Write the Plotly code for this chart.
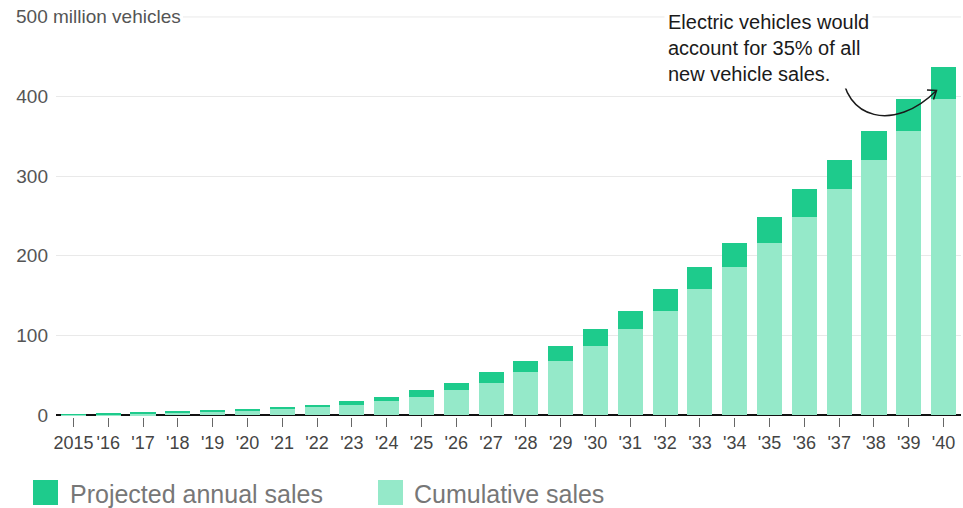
import plotly.graph_objects as go

# ---- data (million vehicles) ----
years = ["2015", "'16", "'17", "'18", "'19", "'20", "'21", "'22", "'23", "'24", "'25", "'26", "'27",
         "'28", "'29", "'30", "'31", "'32", "'33", "'34", "'35", "'36", "'37", "'38", "'39", "'40"]
cumulative_sales = [0.5, 1.0, 1.8, 2.6, 3.8, 5.3, 7.6, 9.8, 13.2, 17.3, 23.2, 31.0, 40.6,
                    53.6, 68.2, 86.7, 107.7, 131.2, 157.9, 185.6, 216.6, 249.2, 283.6, 319.8, 357.0, 396.8]
annual_sales = [0.5, 0.8, 0.8, 1.2, 1.5, 2.3, 2.2, 3.4, 4.1, 5.9, 7.8, 9.6, 13.0,
                14.6, 18.5, 21.0, 23.5, 26.7, 27.7, 31.0, 32.6, 34.4, 36.2, 37.2, 39.8, 40.8]
y_tickvals = [0, 100, 200, 300, 400]
y_ticktext = ["0", "100", "200", "300", "400"]
top_label = "500 million vehicles"
note = "Electric vehicles would<br>account for 35% of all<br>new vehicle sales."
legend_labels = ["Projected annual sales", "Cumulative sales"]

DARK = "#1ECB8C"
LIGHT = "#95E9C9"
FONT = "Liberation Sans, Arial, sans-serif"

W, H = 963, 508
L, R, T, B = 56, 2, 11, 91
PW, PH = W - L - R, H - T - B
plot_bottom = H - B


def px(x):
    return (x - L) / PW


def py(y):
    return (plot_bottom - y) / PH


fig = go.Figure()
fig.add_trace(go.Bar(x=years, y=cumulative_sales, name=legend_labels[1],
                     marker=dict(color=LIGHT, line=dict(width=0)), showlegend=False))
fig.add_trace(go.Bar(x=years, y=annual_sales, name=legend_labels[0],
                     marker=dict(color=DARK, line=dict(width=0)), showlegend=False))

fig.update_layout(
    width=W, height=H, autosize=False,
    margin=dict(l=L, r=R, t=T, b=B, pad=0),
    barmode="stack", bargap=0.28,
    plot_bgcolor="white", paper_bgcolor="white",
    font=dict(family=FONT, color="#555", size=19),
    showlegend=False,
)
fig.update_xaxes(type="category", tickmode="array", tickvals=years, ticktext=years,
                 ticks="outside", ticklen=9, tickwidth=1, tickcolor="#666",
                 showline=False, showgrid=False, tickangle=0,
                 tickfont=dict(family=FONT, size=18, color="#444"),
                 range=[-0.5, len(years) - 0.5])
fig.update_yaxes(range=[-2.5, 507.5], tickvals=y_tickvals, ticktext=y_ticktext,
                 showgrid=True, gridcolor="#E9E9E9", gridwidth=1,
                 zeroline=True, zerolinecolor="#111", zerolinewidth=2,
                 ticks="", showline=False, ticklabelstandoff=7,
                 tickfont=dict(family=FONT, size=19, color="#555"))

# gridline for the 500 level, starting after its label
fig.add_shape(type="line", xref="paper", yref="y", x0=px(183), x1=1, y0=500, y1=500,
              line=dict(color="#E9E9E9", width=1), layer="below")
fig.add_annotation(xref="paper", yref="paper", x=px(14), y=py(17), xanchor="left", yanchor="middle",
                   text=top_label, showarrow=False, font=dict(family=FONT, size=19, color="#555"))

# annotation text
fig.add_annotation(xref="paper", yref="paper", x=px(664), y=py(7), xanchor="left", yanchor="top",
                   text=note, align="left", showarrow=False, bgcolor="white", borderpad=3,
                   font=dict(family=FONT, size=20, color="#1a1a1a"))

# curved arrow
p0, p1, p2, p3 = (842, 68), (843, 120), (895, 132), (936, 91)
path = "M {},{} C {},{} {},{} {},{}".format(px(p0[0]), py(p0[1]), px(p1[0]), py(p1[1]),
                                            px(p2[0]), py(p2[1]), px(p3[0]), py(p3[1]))
fig.add_shape(type="path", xref="paper", yref="paper", path=path,
              line=dict(color="#1a1a1a", width=1.5))
head = "M {},{} L {},{} L {},{}".format(px(927), py(90), px(936.5), py(90.5), px(933.5), py(99.5))
fig.add_shape(type="path", xref="paper", yref="paper", path=head,
              line=dict(color="#1a1a1a", width=1.5))

# legend (custom, large swatches)
for sx, tx, col, lab in [(33, 68, DARK, legend_labels[0]), (378, 412, LIGHT, legend_labels[1])]:
    fig.add_shape(type="rect", xref="paper", yref="paper", x0=px(sx), x1=px(sx + 25),
                  y0=py(505), y1=py(480), fillcolor=col, line=dict(width=0))
    fig.add_annotation(xref="paper", yref="paper", x=px(tx), y=py(494), xanchor="left", yanchor="middle",
                       text=lab, showarrow=False, font=dict(family=FONT, size=25, color="#777"))

fig.write_html("out.html")
